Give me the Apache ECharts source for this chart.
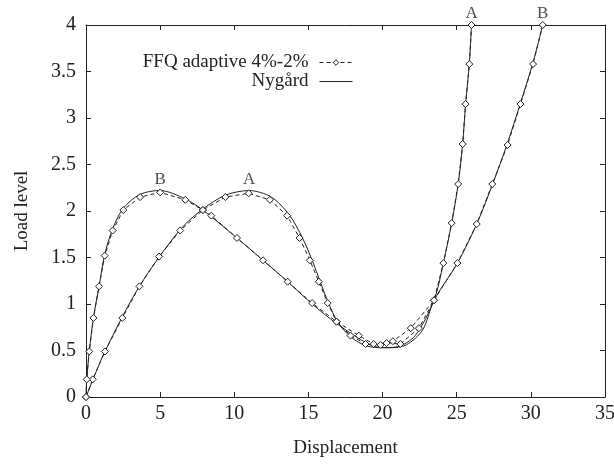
<!DOCTYPE html>
<html>
<head>
<meta charset="utf-8">
<script src="https://cdn.jsdelivr.net/npm/echarts@6/dist/echarts.min.js"></script>
<style>
  html, body { margin: 0; padding: 0; background: #fff; }
  #chart { width: 614px; height: 465px; }
</style>
</head>
<body>
<div id="chart"></div>
<script>
// tick values
var xTicks = [0, 5, 10, 15, 20, 25, 30, 35]
var yTicks = [0, 0.5, 1, 1.5, 2, 2.5, 3, 3.5, 4]

// FFQ adaptive 4%-2% (dashed, with markers)
var ffqA = [
  [0, 0], [0.45, 0.19], [1.28, 0.49], [2.45, 0.85], [3.6, 1.19], [4.93, 1.51],
  [6.35, 1.79], [7.88, 2.01], [9.4, 2.15], [10.97, 2.19], [12.4, 2.12],
  [13.56, 1.95], [14.4, 1.71], [15.1, 1.47], [15.7, 1.24], [16.3, 1.01],
  [16.9, 0.81], [17.84, 0.66], [18.85, 0.57], [19.86, 0.56], [20.7, 0.6],
  [21.9, 0.74], [23.47, 1.04], [24.1, 1.44], [24.66, 1.87], [25.1, 2.29],
  [25.4, 2.72], [25.6, 3.15], [25.85, 3.58], [26.0, 4.0]
]
var ffqB = [
  [0, 0], [0.05, 0.19], [0.22, 0.49], [0.5, 0.85], [0.88, 1.19], [1.26, 1.52],
  [1.8, 1.79], [2.52, 2.01], [3.65, 2.15], [5.0, 2.2], [6.7, 2.12],
  [7.88, 2.01], [8.45, 1.95], [10.18, 1.71], [11.94, 1.47], [13.6, 1.24],
  [15.25, 1.01], [16.9, 0.81], [18.4, 0.66], [19.4, 0.57], [20.27, 0.58],
  [21.2, 0.57], [22.45, 0.74], [23.47, 1.04], [25.05, 1.44], [26.35, 1.86],
  [27.4, 2.29], [28.43, 2.71], [29.3, 3.15], [30.15, 3.58], [30.8, 4.0]
]

// Nygård (solid)
var nygA = [
  [0, 0], [1.28, 0.49], [3.6, 1.19], [6.35, 1.8], [7.88, 2.02], [9.4, 2.17],
  [11.0, 2.22], [12.5, 2.15], [13.7, 1.96], [14.6, 1.71], [15.3, 1.45],
  [16.3, 1.03], [17.0, 0.8], [17.9, 0.64], [18.9, 0.55], [20.0, 0.53],
  [21.0, 0.54], [22.2, 0.66], [23.47, 1.04], [24.1, 1.44], [24.66, 1.87],
  [25.1, 2.29], [25.4, 2.72], [25.6, 3.15], [25.85, 3.58], [26.0, 4.0]
]
var nygB = [
  [0, 0], [0.05, 0.19], [0.22, 0.49], [0.5, 0.85], [0.88, 1.19], [1.26, 1.53],
  [1.8, 1.81], [2.52, 2.03], [3.65, 2.18], [5.0, 2.22], [6.7, 2.13],
  [7.88, 2.01], [10.18, 1.71], [11.94, 1.47], [13.6, 1.24], [15.25, 1.0],
  [16.9, 0.79], [18.5, 0.62], [19.5, 0.54], [20.5, 0.53], [21.6, 0.56],
  [22.7, 0.72], [23.47, 1.04], [25.05, 1.44], [26.35, 1.86], [27.4, 2.28],
  [28.4, 2.72], [29.3, 3.16], [30.15, 3.6], [30.8, 4.0]
]

// curve labels [x, y, text]
var curveLabels = [
  [5.0, 2.22, 'B'],
  [11.0, 2.22, 'A'],
  [26.0, 4.0, 'A'],
  [30.8, 4.0, 'B']
]

var font = 'Liberation Serif'
var ink = '#222'

var myChart = echarts.init(document.getElementById('chart'), null, { renderer: 'canvas' })

function ffqSeries(data) {
  return {
    name: 'FFQ adaptive 4%-2%',
    type: 'line',
    data: data,
    symbol: 'diamond',
    symbolSize: 7,
    showSymbol: true,
    itemStyle: { color: '#fff', borderColor: ink, borderWidth: 1 },
    lineStyle: { color: ink, width: 1, type: [4, 3] },
    z: 3,
    animation: false
  }
}

function nygSeries(data) {
  return {
    name: 'Nygård',
    type: 'line',
    data: data,
    smooth: 0.3,
    showSymbol: false,
    symbol: 'none',
    itemStyle: { color: ink },
    lineStyle: { color: ink, width: 1 },
    z: 2,
    animation: false
  }
}

var labelSeries = {
  name: 'labels',
  type: 'scatter',
  data: curveLabels.map(function(l) {
    return { value: [l[0], l[1]], label: { formatter: l[2] } }
  }),
  symbolSize: 0,
  itemStyle: { color: 'transparent' },
  label: { show: true, position: 'top', distance: 3, color: ink, fontFamily: font, fontSize: 17 },
  clip: false,
  silent: true,
  z: 5
}

var axisCommon = {
  type: 'value',
  axisLine: { show: true, onZero: false, lineStyle: { color: ink, width: 1 } },
  axisTick: { show: true, inside: true, length: 5, lineStyle: { color: ink } },
  splitLine: { show: false }
}

var option = {
  backgroundColor: '#fff',
  animation: false,
  textStyle: { fontFamily: font },
  grid: { left: 86, right: 9, top: 25, bottom: 68, containLabel: false, outerBoundsMode: 'none' },
  legend: {
    data: [
      {
        name: 'FFQ adaptive 4%-2%',
        lineStyle: { width: 1 },
        itemStyle: { color: '#fff', borderColor: ink, borderWidth: 1 }
      },
      { name: 'Nygård', lineStyle: { width: 1 }, itemStyle: { color: 'transparent', borderWidth: 0, opacity: 0 } }
    ],
    orient: 'vertical',
    right: 261,
    top: 53,
    padding: 0,
    align: 'right',
    itemWidth: 33,
    itemHeight: 7,
    itemGap: 0,
    textStyle: { fontFamily: font, fontSize: 19, color: ink, padding: [0, 6, 0, 0] },
    selectedMode: false
  },
  xAxis: [
    Object.assign({}, axisCommon, {
      min: xTicks[0], max: xTicks[xTicks.length - 1], interval: 5,
      position: 'bottom',
      name: 'Displacement', nameLocation: 'middle', nameGap: 42,
      nameTextStyle: { fontFamily: font, fontSize: 19, color: ink },
      axisLabel: { margin: 7, fontFamily: font, fontSize: 20, color: ink }
    }),
    Object.assign({}, axisCommon, {
      min: xTicks[0], max: xTicks[xTicks.length - 1], interval: 5,
      position: 'top',
      axisLabel: { show: false }
    })
  ],
  yAxis: [
    Object.assign({}, axisCommon, {
      min: yTicks[0], max: yTicks[yTicks.length - 1], interval: 0.5,
      position: 'left',
      name: 'Load level', nameLocation: 'middle', nameGap: 54,
      nameTextStyle: { fontFamily: font, fontSize: 19, color: ink },
      axisLabel: { margin: 10, fontFamily: font, fontSize: 20, color: ink }
    }),
    Object.assign({}, axisCommon, {
      min: yTicks[0], max: yTicks[yTicks.length - 1], interval: 0.5,
      position: 'right',
      axisLabel: { show: false }
    })
  ],
  series: [
    nygSeries(nygA),
    nygSeries(nygB),
    ffqSeries(ffqA),
    ffqSeries(ffqB),
    labelSeries
  ]
}

myChart.setOption(option)
</script>
</body>
</html>
